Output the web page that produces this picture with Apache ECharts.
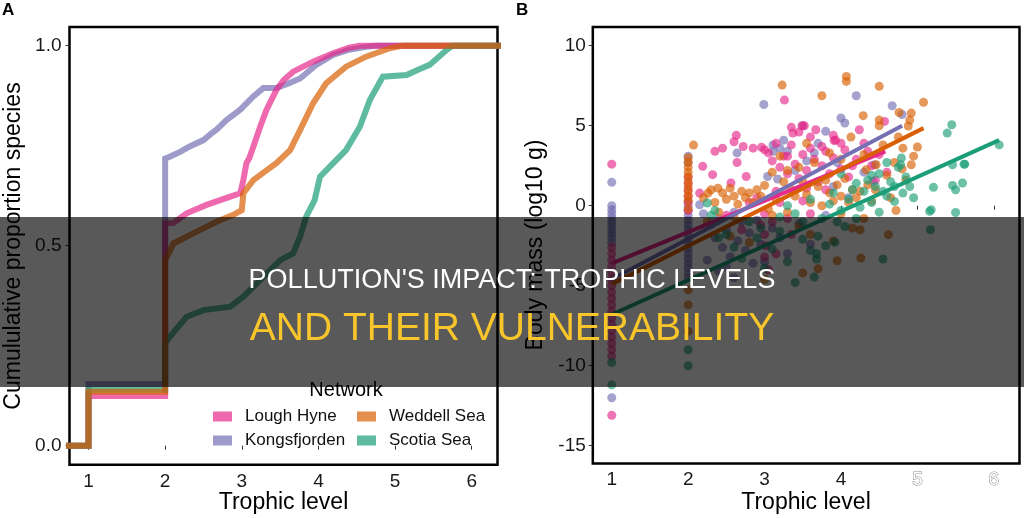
<!DOCTYPE html>
<html>
<head>
<meta charset="utf-8">
<script src="https://cdn.jsdelivr.net/npm/echarts@6/dist/echarts.min.js"></script>
<style>
html,body{margin:0;padding:0;background:#fff;}
#chart{width:1024px;height:518px;}
</style>
</head>
<body>
<div id="chart"></div>
<script>
// ---------- DATA ----------
const networks = ['Lough Hyne', 'Kongsfjorden', 'Weddell Sea', 'Scotia Sea'];
const xTicks = [1, 2, 3, 4, 5, 6];
const yTicksA = [0, 0.5, 1];
const yTicksB = [-15, -10, -5, 0, 5, 10];

// Panel A: cumulative proportion of species by trophic level
const ecdfLoughHyne = [[0.5,0],[1,0],[1,0.124],[2,0.124],[2,0.556],[2.11,0.557],[2.28,0.581],[2.54,0.602],[2.85,0.6225],[2.98,0.631],[3.02,0.664],[3.06,0.706],[3.1,0.72],[3.15,0.7475],[3.24,0.7975],[3.32,0.839],[3.45,0.889],[3.55,0.915],[3.67,0.935],[3.93,0.96],[4.19,0.981],[4.4,0.995],[4.54,1],[6.5,1]];
const ecdfKongsfjorden = [[0.5,0],[1,0],[1,0.154],[2,0.154],[2,0.718],[2.06,0.7225],[2.2,0.735],[2.32,0.748],[2.5,0.764],[2.6,0.78],[2.67,0.79],[2.8,0.814],[2.98,0.84],[3.15,0.873],[3.28,0.894],[3.45,0.894],[3.6,0.905],[3.76,0.918],[3.97,0.952],[4.19,0.977],[4.4,0.99],[4.62,0.997],[4.75,1],[6.5,1]];
const ecdfWeddell = [[0.5,0],[1,0],[1,0.135],[2,0.135],[2,0.464],[2.11,0.506],[2.28,0.5225],[2.45,0.539],[2.67,0.56],[2.89,0.577],[3.0,0.589],[3.02,0.631],[3.15,0.664],[3.3,0.685],[3.45,0.706],[3.63,0.739],[3.76,0.789],[3.93,0.856],[4.1,0.906],[4.36,0.9475],[4.62,0.9725],[4.93,0.9935],[5.1,1],[6.5,1]];
const ecdfScotia = [[0.5,0],[1,0],[1,0.14],[2,0.14],[2,0.256],[2.06,0.2725],[2.28,0.3225],[2.5,0.339],[2.85,0.3475],[3.02,0.3725],[3.24,0.414],[3.5,0.464],[3.67,0.481],[3.76,0.5225],[3.84,0.5725],[3.95,0.614],[4.02,0.6725],[4.19,0.706],[4.36,0.739],[4.54,0.7975],[4.67,0.864],[4.84,0.9225],[5.15,0.9265],[5.3,0.94],[5.45,0.952],[5.67,0.989],[5.75,1],[6.5,1]];

// Panel B: body mass (log10 g) vs trophic level
const massLoughHyne = [[1,2.6],[1,-2.6],[1,-3.0],[1,-3.4],[1,-3.8],[1,-4.2],[1,-4.6],[1,-5.0],[1,-5.4],[1,-5.8],[1,-6.2],[1,-6.6],[1,-7.0],[1,-7.4],[1,-7.8],[1,-8.2],[1,-8.6],[1,-9.0],[1,-9.4],[1,-13.1],
 [2,1.8],[2,1.4],[2,1.0],[2,0.6],[2,0.2],[2,-0.3],
 [2.15,0.79],[2.19,2.46],[2.32,1.94],[2.56,1.42],[2.6,4.0],[2.63,4.4],[2.64,2.7],[2.72,3.7],[2.76,1.83],[2.85,3.6],[2.96,3.65],[3.26,6.6],[3.37,4.54],[3.49,5.0],[3.52,5.0],[3.67,4.75],[3.91,4.08],[3.93,4.1],[4.24,4.75],[4.57,5.27],
 [3.0,3.5],[3.05,3.3],[3.1,2.8],[3.2,2.4],[3.25,3.1],[3.3,2.0],[3.35,3.8],[3.4,2.6],[3.45,1.7],[3.5,3.2],[3.55,2.2],[3.6,3.6],[3.65,2.9],[3.7,1.5],[3.75,2.5],[3.8,3.4],[3.85,2.0],[3.9,3.0],[4.0,2.3],[4.05,3.5],[4.1,1.8],[4.2,2.9],[4.3,3.9],[4.4,2.5],[4.5,3.2],[4.6,2.1],
 [2.9,0.5],[3.0,-0.5],[2.95,-1.2],[3.0,-1.8],[3.02,-2.5],[3.0,-3.2],[3.05,-4.0],[3.1,-1.0],[3.3,-0.8],[3.5,0.3],[3.6,-0.5],[2.8,0.2],[3.15,0.9],[2.7,-1.5],[2.5,-0.6],
 [3.35,4.9],[3.45,4.6],[3.6,4.3],[3.75,3.7],[3.9,4.4],[4.0,3.9],[3.15,3.9],[3.3,3.1],[3.55,1.1],[3.8,1.0],[4.15,2.5],[4.35,3.4],[4.45,1.6],[2.45,3.6],[2.35,3.4],[3.2,0.2],[3.35,-1.8],[3.15,-3.0]];
const massKongsfjorden = [[1,1.46],[1,0],[1,-0.25],[1,-0.5],[1,-0.75],[1,-1.0],[1,-1.25],[1,-1.5],[1,-1.75],[1,-2.0],[1,-2.3],[1,-12.0],
 [2,3.1],[2,2.7],[2,0.3],[2,0],[2,-0.3],[2,-0.6],[2,-0.9],[2,-1.2],[2,-1.5],[2,-1.8],[2,-2.1],[2,-2.4],[2,-2.7],[2,-3.0],[2,-3.3],[2,-3.6],[2,-3.9],[2,-4.2],[2,-4.5],
 [2.15,0.06],[2.64,3.3],[2.99,6.33],[3.11,3.8],[3.11,3.4],[3.04,1.83],[3.17,1.67],[4.2,6.87],[4.67,6.25],[4.0,5.48],[4.05,5.17],[3.8,4.65],[4.8,5.7],[4.42,1.52],[4.44,2.56],[3.2,3.6],[3.3,3.4],[3.5,5.0],[3.55,2.8],[3.7,3.9],
 [2.2,-0.5],[2.3,-1.2],[2.35,-2.0],[2.4,-0.8],[2.45,-2.6],[2.5,-1.5],[2.55,-3.2],[2.6,-0.4],[2.65,-2.2],[2.7,-1.0],[2.75,-2.8],[2.8,-1.7],[2.85,-3.6],[2.9,-0.9],[2.95,-2.4],[3.1,-1.4],[3.2,-2.0],[3.3,-3.0],[3.45,-1.1],[3.6,-2.4],[2.25,-3.4],[2.4,-4.1],[2.6,-4.5],[3.8,-0.6],[4.1,0.5],[3.9,1.2],
 [3.25,4.1],[3.4,2.2],[3.65,3.3],[3.95,2.7],[4.3,2.1],[2.5,-3.8],[3.0,-3.5]];
const massWeddell = [[2,3.0],[2,2.7],[2,2.4],[2,2.1],[2,1.8],[2,1.5],[2,1.2],[2,0.9],[2,0.6],[2,0.3],[2,-0.2],[2,-5.25],[2,-6.2],[2,-7.85],
 [2.07,3.79],[2.26,0.79],[2.39,1.1],[3.0,1.27],[3.23,7.54],[4.07,8.08],[4.07,7.77],[4.5,7.46],[3.75,6.87],[5.08,6.46],[4.29,5.63],[4.76,5.83],[4.92,5.79],[4.9,5.35],[4.88,4.98],[4.5,5.35],[4.5,5.0],[4.13,4.29],[5.0,3.67],[4.81,3.6],[4.92,2.56],[4.72,-0.3],[4.46,2.56],[4.33,2.25],[4.62,-1.81],[3.95,-3.44],[4.26,-3.27],[3.7,-3.94],[4.15,-1.4],[4.25,-1.5],
 [2.2,0.5],[2.3,1.0],[2.35,0.2],[2.45,0.8],[2.5,0.4],[2.55,1.1],[2.6,0.6],[2.65,0.1],[2.7,0.9],[2.75,0.5],[2.8,0.8],[2.85,0.2],[2.9,1.0],[2.4,-0.4],[2.6,-0.7],[2.25,-1.0],
 [3.8,1.6],[3.85,0.8],[3.9,0.3],[3.95,1.3],[4.0,0.6],[4.05,1.7],[4.1,0.2],[4.15,1.0],[4.2,0.5],[3.75,0.0],[4.0,-0.5],
 [3.3,2.2],[3.4,0.6],[3.5,1.5],[3.55,3.9],[3.6,0.2],[3.65,2.7],[3.3,-0.4],[3.45,-1.3],[3.1,-0.6],[3.2,3.1],[4.3,3.2],[4.35,1.3],[4.4,0.3],[4.55,3.8],[4.6,1.9],[4.7,2.7],[4.75,4.3],[4.85,1.6],[4.95,3.1],[2.8,-2.3],[3.0,-4.6],[3.5,-4.2],[2.55,-1.9],[3.6,-1.8],[3.9,-2.2],[4.3,-0.8],
 [3.15,0.4],[3.25,1.5],[3.35,1.0],[3.45,2.4],[3.55,0.7],[3.7,1.2],[3.85,3.3],[4.25,0.9],[4.45,1.0],[4.65,0.5],[4.8,2.3],[4.0,2.9],[3.1,2.1],[2.95,0.6],[3.05,-0.2]];
const massScotia = [[1,-9.8],[1,-11.2],[2,-9.0],[2,-10.0],
 [2.25,0.17],[2.3,-0.6],[2.5,-1.8],[2.6,-2.6],[2.7,-3.3],[2.8,-1.0],[2.9,-2.0],[3.0,-3.9],[3.1,-2.7],[3.2,-1.6],[3.3,-3.5],[3.4,-0.5],[3.5,-2.1],[3.5,-1.0],[3.6,-2.8],[3.68,-3.33],[3.68,-3.0],[3.65,-4.46],[3.7,-1.9],[3.8,-2.5],[3.92,-2.29],[3.95,-1.0],[4.0,-0.3],[4.1,0.4],[4.2,-0.8],[4.3,0.9],[4.35,1.6],[4.4,0.2],[4.45,1.2],[4.5,-0.4],[4.55,-3.33],[4.5,2.0],[4.6,0.6],[4.65,1.5],[4.7,0.27],[4.75,2.4],[4.79,2.98],[4.78,2.56],[4.81,0.79],[4.85,1.8],[4.9,1.2],
 [5.16,-0.35],[5.18,-0.25],[5.5,-0.42],[5.17,-1.5],[5.45,5.06],[5.39,4.54],[6.07,3.8],[5.46,2.56],[5.61,2.6],[5.62,2.6],[5.46,1.27],[5.59,1.42],[5.5,1.0],[5.21,1.15],
 [3.3,0.0],[3.6,0.4],[3.9,0.8],[4.0,2.0],[4.2,1.4],[3.4,-4.8],[2.4,-2.0],[2.35,-0.3],
 [3.75,-0.8],[3.85,0.1],[4.05,-1.3],[4.15,1.0],[4.25,-0.1],[4.4,1.9],[4.55,0.9],[4.6,2.7],[4.7,1.2],[4.95,0.5],[3.2,-0.7],[2.95,-1.4]];

// Regression lines (end points)
const fitLoughHyne = [[1,-3.6],[4.58,3.4]];
const fitKongsfjorden = [[1,-4.6],[4.8,5.0]];
const fitWeddell = [[1,-4.9],[5.08,4.85]];
const fitScotia = [[1,-6.8],[6.07,4.1]];

// ---------- STYLE ----------
const FONT = 'Liberation Sans, Arial, sans-serif';
const COL = {'Lough Hyne':'#E7298A','Kongsfjorden':'#7570B3','Weddell Sea':'#D95F02','Scotia Sea':'#1B9E77'};
const COL_LIGHT = {'Lough Hyne':'#ee69ad','Kongsfjorden':'#9e9bcb','Weddell Sea':'#e48f4e','Scotia Sea':'#5fbba0'};

const chart = echarts.init(document.getElementById('chart'), null, {renderer:'canvas'});

function xAxisCfg(gridIndex, rich){
  return {
    gridIndex, type:'value', min:0.752, max:6.336,
    axisLine:{show:false}, splitLine:{show:false},
    axisTick:{show:true, customValues:xTicks, length:4, lineStyle:{color:'#333', width:1}},
    axisLabel:{customValues:xTicks, margin:7, fontSize:19, color:'#1a1a1a', fontFamily:FONT,
      formatter: rich ? (v => (v===5||v===6) ? '{g|'+v+'}' : String(v)) : (v => String(v)),
      rich: rich ? {g:{fontSize:19, fontFamily:FONT, color:'#ffffff', textBorderColor:'#8a8a8a', textBorderWidth:1}} : undefined}
  };
}

const ecdfSets = [['Kongsfjorden', ecdfKongsfjorden],['Lough Hyne', ecdfLoughHyne],['Scotia Sea', ecdfScotia],['Weddell Sea', ecdfWeddell]];
const massSets = [['Kongsfjorden', massKongsfjorden],['Lough Hyne', massLoughHyne],['Weddell Sea', massWeddell],['Scotia Sea', massScotia]];
const fitSets = [['Lough Hyne', fitLoughHyne],['Kongsfjorden', fitKongsfjorden],['Weddell Sea', fitWeddell],['Scotia Sea', fitScotia]];

const series = [];
ecdfSets.forEach(([name, d]) => series.push({
  name, type:'line', xAxisIndex:0, yAxisIndex:0, data:d, showSymbol:false, symbol:'none',
  clip:true, color:COL[name], lineStyle:{color:COL[name], width:6, opacity:0.7, join:'miter'}, z:2
}));
massSets.forEach(([name, d]) => series.push({
  name, type:'scatter', xAxisIndex:1, yAxisIndex:1, data:d, symbolSize:9,
  itemStyle:{color:COL[name], opacity:0.65}, z:2
}));
fitSets.forEach(([name, d]) => series.push({
  name, type:'line', xAxisIndex:1, yAxisIndex:1, data:d, showSymbol:false, symbol:'none',
  lineStyle:{color:COL[name], width:4}, z:3
}));

function legendCfg(left, names){
  return {left, top:408, orient:'vertical', icon:'rect', itemWidth:19, itemHeight:10, itemGap:7,
    selectedMode:false, padding:0,
    data:names.map(n => ({name:n, itemStyle:{color:COL_LIGHT[n], opacity:1}, lineStyle:{width:0}})),
    textStyle:{fontSize:17, color:'#111', fontFamily:FONT, padding:[0,0,0,8]}};
}

const option = {
  animation:false,
  backgroundColor:'#ffffff',
  grid:[
    {left:69.5, top:27, width:428, height:437.8, show:true, borderColor:'#000', borderWidth:2.5, backgroundColor:'transparent'},
    {left:592.8, top:27, width:426.7, height:436.5, show:true, borderColor:'#000', borderWidth:2.5, backgroundColor:'transparent'}
  ],
  xAxis:[xAxisCfg(0,false), xAxisCfg(1,true)],
  yAxis:[
    {gridIndex:0, type:'value', min:-0.0477, max:1.0467, axisLine:{show:false}, splitLine:{show:false},
     axisTick:{show:true, customValues:yTicksA, length:4, lineStyle:{color:'#333'}},
     axisLabel:{customValues:yTicksA, margin:8, fontSize:19, color:'#1a1a1a', fontFamily:FONT, formatter:v => v.toFixed(1)}},
    {gridIndex:1, type:'value', min:-16.11, max:11.17, axisLine:{show:false}, splitLine:{show:false},
     axisTick:{show:true, customValues:yTicksB, length:4, lineStyle:{color:'#333'}},
     axisLabel:{customValues:yTicksB, margin:7, fontSize:19, color:'#1a1a1a', fontFamily:FONT, formatter:v => String(v)}}
  ],
  legend:[legendCfg(213, ['Lough Hyne','Kongsfjorden']), legendCfg(357, ['Weddell Sea','Scotia Sea'])],
  series,
  graphic:[
    {type:'text', x:2, y:2, z:50, style:{text:'A', font:'bold 17px '+FONT, fill:'#000', textAlign:'left', textVerticalAlign:'top'}},
    {type:'text', x:516, y:2, z:50, style:{text:'B', font:'bold 17px '+FONT, fill:'#000', textAlign:'left', textVerticalAlign:'top'}},
    {type:'text', x:283.5, y:503, z:50, style:{text:'Trophic level', font:'23px '+FONT, fill:'#000', textAlign:'center', textVerticalAlign:'middle'}},
    {type:'text', x:806, y:503, z:50, style:{text:'Trophic level', font:'23px '+FONT, fill:'#000', textAlign:'center', textVerticalAlign:'middle'}},
    {type:'text', x:14, y:246, rotation:Math.PI/2, z:50, style:{text:'Cumululative proportion species', font:'23px '+FONT, fill:'#000', textAlign:'center', textVerticalAlign:'middle'}},
    {type:'text', x:536, y:245, rotation:Math.PI/2, z:50, style:{text:'Body mass (log10 g)', font:'23px '+FONT, fill:'#000', textAlign:'center', textVerticalAlign:'middle'}},
    {type:'text', x:346, y:390, z:50, style:{text:'Network', font:'20px '+FONT, fill:'#000', textAlign:'center', textVerticalAlign:'middle'}},
    {type:'rect', z:100, shape:{x:0, y:217, width:1024, height:170}, style:{fill:'rgba(0,0,0,0.65)'}},
    {type:'text', x:512, y:281, z:101, style:{text:"POLLUTION'S IMPACT: TROPHIC LEVELS", font:'27px '+FONT, fill:'#ffffff', textAlign:'center', textVerticalAlign:'middle'}},
    {type:'text', x:512, y:329, z:101, style:{text:'AND THEIR VULNERABILITY', font:'39px '+FONT, fill:'#f8c62a', textAlign:'center', textVerticalAlign:'middle'}}
  ]
};
chart.setOption(option);
</script>
</body>
</html>
